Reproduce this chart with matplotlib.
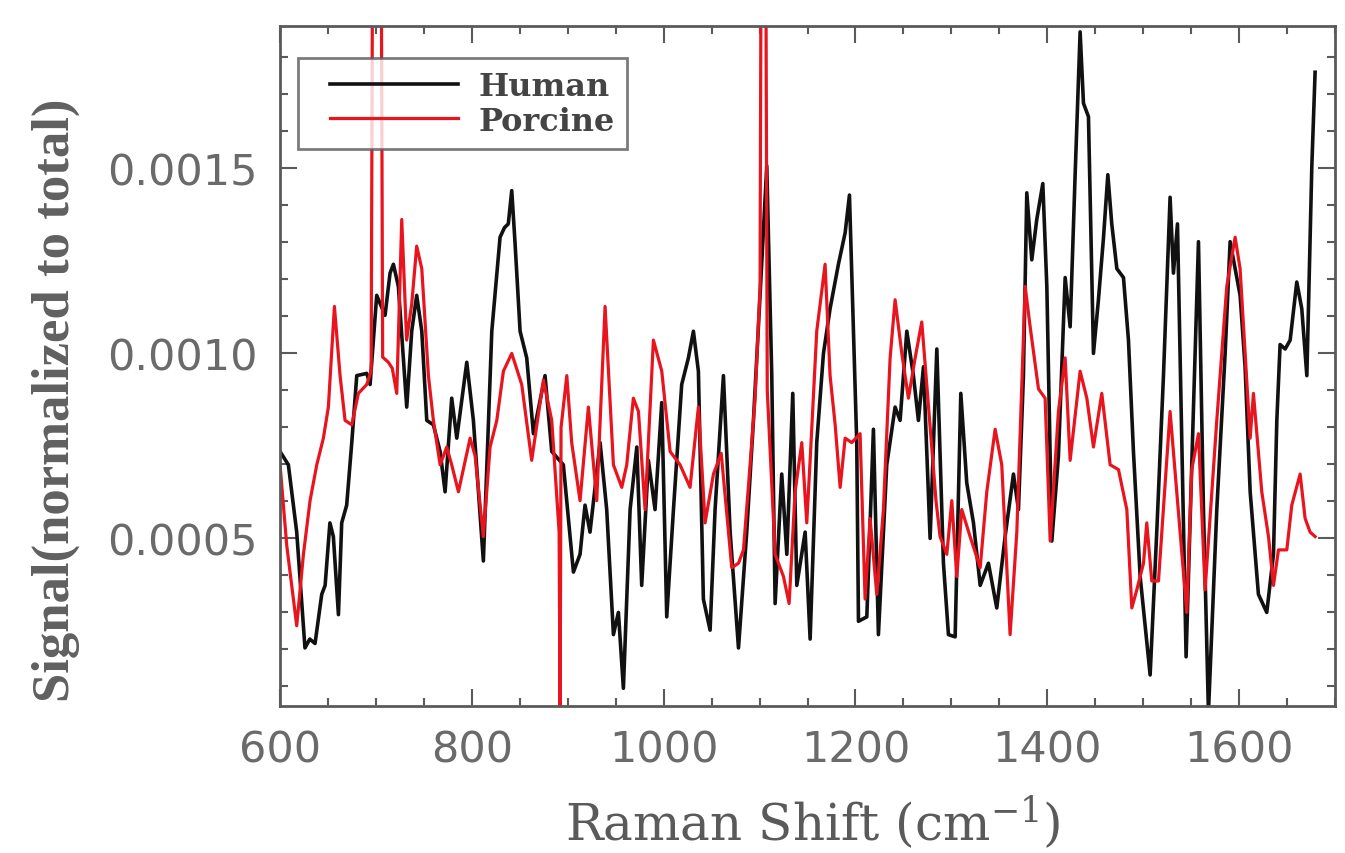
"""Raman spectra: human vs porcine, signal normalized to total."""
import numpy as np
import matplotlib
matplotlib.use("Agg")
import matplotlib.pyplot as plt
from matplotlib.ticker import MultipleLocator, FormatStrFormatter
from matplotlib.legend_handler import HandlerLine2D

SCALE = 1e-4  # values below are in units of 1e-4

human_x = [600, 608.7, 617.4, 626, 631, 636.5, 643.5, 647, 652, 655.6, 660.9, 664.3, 669.5, 674.8,
           680, 690.4, 693.9, 700.8, 709.5, 714.7, 718.2, 723.4, 732.1, 737.3, 742.5, 747.8, 753,
           759.9, 766.9, 772.1, 779, 784.3, 794.7, 801.6, 812, 820.8, 829.4, 834, 838, 841.6, 845,
           850.3, 857.2, 864.2, 876.3, 883.3, 895.4, 905.9, 912.8, 918, 923.2, 933.7, 940.6, 947.6,
           952.8, 958, 965, 972, 977.1, 984.1, 991, 998, 1003.2, 1010.2, 1018.8, 1025.8, 1031,
           1036.2, 1041.4, 1048.4, 1053.6, 1062.3, 1069.3, 1078, 1086.6, 1093.6, 1100.5, 1107.5,
           1112.7, 1116.2, 1123.1, 1128.4, 1134.6, 1138.8, 1147.5, 1152.7, 1159.6, 1166.6, 1173.5,
           1182.2, 1189.2, 1193.7, 1201.3, 1203.1, 1211.8, 1218.7, 1223.9, 1232.6, 1241.3, 1246.5,
           1253.5, 1260.4, 1265.6, 1270.9, 1277.8, 1284.8, 1291.7, 1296.9, 1303.9, 1309.8, 1316,
           1323, 1330, 1338.6, 1347.3, 1356, 1364.7, 1369.9, 1375.1, 1378.6, 1383.8, 1389, 1395.3,
           1399.5, 1404.7, 1411.6, 1418.6, 1423.8, 1429, 1434.2, 1437.7, 1442.9, 1448.1, 1453.3,
           1458.6, 1463.1, 1467.2, 1472.5, 1479.4, 1484.6, 1489.8, 1496.8, 1507.2, 1514.1, 1521.1,
           1528, 1531.5, 1535.7, 1540.2, 1544.7, 1550.6, 1557.6, 1562.8, 1568, 1576.7, 1585.4,
           1590.6, 1595.8, 1601, 1606.2, 1611.5, 1620.1, 1628.8, 1635.8, 1639.3, 1642.7, 1648,
           1653.2, 1660.1, 1665.3, 1670.6, 1675.8, 1679.2]
human_y = [7.35, 6.99, 5.17, 2.04, 2.28, 2.16, 3.49, 3.73, 5.42, 5.05, 2.94, 5.42, 5.9, 7.59,
           9.4, 9.46, 9.16, 11.57, 11.03, 12.17, 12.41, 11.81, 8.55, 10.6, 11.57, 10.6, 8.19,
           8.07, 7.35, 6.26, 8.79, 7.71, 9.76, 8.19, 4.39, 10.6, 13.14, 13.4, 13.5, 14.4, 13.0,
           10.6, 9.88, 7.83, 9.4, 7.35, 6.99, 4.09, 4.57, 5.9, 5.17, 7.59, 5.78, 2.4,
           3.0, 0.95, 5.78, 7.47, 3.73, 7.11, 5.78, 8.67, 2.88, 5.78, 9.16, 9.88, 10.6,
           9.52, 3.36, 2.52, 5.78, 9.4, 5.17, 2.04, 5.17, 8.19, 11.57, 15.07,
           9.4, 3.24, 6.74, 4.57, 8.92, 3.73, 5.17, 2.28, 7.59, 10.0, 11.21,
           12.41, 13.26, 14.28, 7.59, 2.76, 2.88, 7.95, 2.4, 6.99, 8.55, 8.19,
           10.6, 9.4, 8.19, 9.64, 5.0, 10.12, 4.33, 2.4, 2.34, 8.92, 6.5,
           5.42, 3.73, 4.33, 3.12, 5.05, 6.74, 5.78, 9.4, 14.34, 12.53, 13.62, 14.59,
           11.81, 4.93, 7.23, 12.05, 10.72, 14.83, 18.69, 16.76, 16.4, 10.0, 11.45,
           13.14, 14.83, 13.5, 12.29, 12.05, 10.36, 7.35, 3.97, 1.31, 5.17, 9.4,
           14.22, 12.17, 13.5, 7.59, 1.8, 6.99, 13.02, 5.78, 0.3, 5.78, 10.0,
           13.02, 12.29, 11.57, 9.64, 6.26, 3.49, 3.0, 4.57, 8.19, 10.24, 10.12,
           10.36, 11.93, 11.21, 9.4, 15.07, 17.6]

porcine_x = [600, 607, 617.4, 624.4, 631.3, 638.3, 645.2, 650.4, 656.7, 662.6, 667.8, 674.8, 681.7,
             690.4, 695, 697, 705, 707, 713, 717, 721.7, 726.9, 732, 737.3, 742.5, 747.8, 754.7,
             759.9, 766.9, 773.8, 779, 786, 798.2, 803.4, 812, 819, 826, 832.9, 841.6, 852, 862.4,
             874.6, 883.3, 891, 892, 893, 899, 904.1, 912.8, 921.5, 930.2, 938.9, 947.6, 956.3,
             961.5, 968.4, 973.7, 980.6, 989.3, 998, 1006.7, 1017.1, 1027.5, 1036.2, 1043.2,
             1051.9, 1060, 1071, 1078, 1083.2, 1090.1, 1095.3, 1100.5, 1102, 1106, 1108, 1116.2,
             1124.9, 1130.8, 1137, 1144, 1149.2, 1152.7, 1159.6, 1168.3, 1173.5, 1178.8, 1184,
             1189.2, 1196.1, 1204.8, 1210, 1215.2, 1222.2, 1229.1, 1236.1, 1241.3, 1248.3, 1255.2,
             1262.2, 1269.1, 1277.8, 1284, 1288.2, 1295.2, 1300.4, 1305.6, 1310.8, 1319.5, 1330,
             1336.9, 1345.6, 1352.5, 1361.2, 1368.2, 1376.9, 1382.1, 1390.8, 1397.7, 1403, 1411.6,
             1418.6, 1423.8, 1434.2, 1441.2, 1448.1, 1456.8, 1465.5, 1474.2, 1482.9, 1488.1,
             1493.3, 1500.3, 1503.7, 1508.9, 1515.9, 1528, 1535, 1545.4, 1550.6, 1557.6, 1564.5,
             1576.7, 1587.1, 1595.8, 1601, 1606.2, 1611.5, 1614.9, 1623.6, 1630.6, 1635.8, 1641,
             1649.7, 1654.9, 1663.6, 1668.8, 1674, 1679.2]
porcine_y = [6.99, 4.81, 2.64, 4.57, 6.02, 6.99, 7.71, 8.55, 11.27, 9.4, 8.19, 8.07, 8.92,
             9.16, 9.52, 25.0, 25.0, 9.9, 9.76, 9.6, 8.92, 13.62, 10.36, 11.33, 12.9, 12.29, 9.4,
             8.19, 6.99, 7.47, 6.99, 6.26, 7.71, 7.23, 5.05, 7.47, 8.19, 9.52, 10.0, 9.16, 7.11,
             9.28, 8.19, 5.17, 0.0, 8.0, 9.4, 7.59, 6.02, 8.55, 6.02, 11.27, 6.99, 6.38,
             6.99, 8.79, 8.43, 5.78, 10.36, 9.52, 7.35, 6.99, 6.38, 8.55, 5.42,
             6.74, 7.3, 4.21, 4.33, 4.69, 6.99, 8.79, 11.81, 25.0, 25.0, 9.0, 4.57,
             3.97, 3.24, 6.26, 7.59, 5.42, 7.11, 10.6, 12.41, 9.4, 8.07, 6.38,
             7.71, 7.59, 7.83, 3.36, 5.54, 3.49, 5.78, 9.88, 11.45, 10.0, 8.79,
             9.88, 10.85, 8.0, 6.0, 5.05, 4.57, 6.02, 3.97, 5.78, 5.05, 4.21,
             6.26, 7.95, 6.99, 2.4, 5.17, 11.81, 10.72, 9.04, 8.79, 4.93, 8.43,
             9.88, 7.11, 9.52, 8.79, 7.47, 8.92, 6.99, 6.86, 5.78, 3.12,
             3.61, 4.33, 5.42, 3.85, 3.85, 8.43, 6.26, 3.0, 6.86, 7.83, 3.61,
             8.19, 11.81, 13.14, 12.29, 10.0, 7.71, 8.92, 6.26, 5.05, 3.73, 4.69,
             4.69, 5.9, 6.74, 5.54, 5.17, 5.05]

GRAY = "#5a5a5a"
plt.rcParams["mathtext.fontset"] = "dejavuserif"


class PaddedLine(HandlerLine2D):
    """Legend line that starts a bit further right inside its handle box."""
    def create_artists(self, legend, orig_handle, xdescent, ydescent, width, height, fontsize, trans):
        arts = super().create_artists(legend, orig_handle, xdescent, ydescent, width, height,
                                      fontsize, trans)
        for a in arts:
            xd = np.asarray(a.get_xdata(), dtype=float)
            if len(xd) > 1:
                a.set_xdata(np.linspace(xd[0] + 0.13 * width, xd[-1], len(xd)))
        return arts


fig = plt.figure(figsize=(13.45, 8.54), dpi=100)
ax = fig.add_axes([0.2082, 0.1721, 0.7844, 0.7963])

ax.plot(human_x, np.array(human_y) * SCALE, color="#111111", lw=2.6, label="Human")
ax.plot(porcine_x, np.array(porcine_y) * SCALE, color="#e8141e", lw=2.3, label="Porcine")

ax.set_xlim(600, 1700)
ax.set_ylim(0.47e-4, 18.85e-4)
ax.xaxis.set_major_locator(MultipleLocator(200))
ax.xaxis.set_minor_locator(MultipleLocator(50))
ax.yaxis.set_major_locator(MultipleLocator(0.0005))
ax.yaxis.set_minor_locator(MultipleLocator(0.0001))
ax.yaxis.set_major_formatter(FormatStrFormatter("%.4f"))

ax.tick_params(which="both", direction="in", top=True, right=True, color=GRAY, width=1.5)
ax.tick_params(which="major", length=12, labelsize=31, labelcolor="#6a6a6a", pad=16)
ax.tick_params(which="minor", length=6)
for s in ax.spines.values():
    s.set_color(GRAY)
    s.set_linewidth(2)

ax.set_xlabel("Raman Shift (cm$^{-1}$)", family="DejaVu Serif", fontsize=36, color=GRAY)
ax.xaxis.set_label_coords(0.505, -0.128)
ax.set_ylabel("Signal(normalized to total)", family="Liberation Serif", fontweight="bold",
              fontsize=38, color="#606060")
ax.yaxis.set_label_coords(-0.19, 0.451)

leg = ax.legend(loc="upper left", bbox_to_anchor=(0.017, 0.953), borderaxespad=0, fancybox=False,
                edgecolor=GRAY, handlelength=4.6, handletextpad=0.65, borderpad=0.4,
                labelspacing=0.12, handler_map={plt.Line2D: PaddedLine()},
                prop={"family": "DejaVu Serif", "weight": "bold", "size": 23})
leg.get_frame().set_linewidth(2)
for t in leg.get_texts():
    t.set_color("#444444")

fig.savefig("out.png", dpi=100)
